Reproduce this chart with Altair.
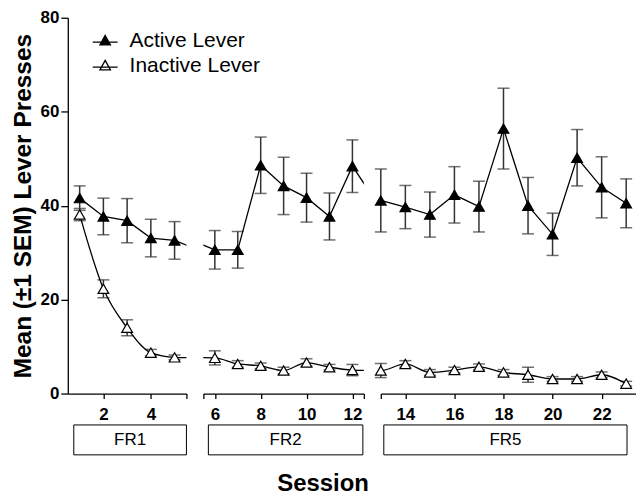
import altair as alt
import pandas as pd

FONT = "Liberation Sans"

sessions = list(range(1, 24))
active_mean = [41.6, 37.7, 36.8, 33.1, 32.6, 30.6, 30.6, 48.6, 44.2, 41.7, 37.7, 48.4,
               41.1, 39.7, 38.1, 42.3, 39.8, 56.4, 40.0, 33.9, 50.2, 43.9, 40.5]
active_sem = [2.6, 3.9, 4.7, 4.0, 4.0, 4.1, 3.9, 6.0, 6.1, 5.2, 5.0, 5.6,
              6.7, 4.6, 4.8, 6.0, 5.4, 8.6, 6.0, 4.5, 6.0, 6.5, 5.2]
inactive_mean = [38.1, 22.3, 14.0, 8.7, 7.7, 7.6, 6.3, 5.9, 4.9, 6.6, 5.6, 5.0,
                 4.9, 6.3, 4.5, 5.0, 5.7, 4.5, 4.0, 3.1, 3.1, 4.0, 2.1]
inactive_sem = [1.3, 1.9, 1.7, 0.7, 0.5, 1.5, 0.7, 0.6, 0.7, 0.8, 0.6, 1.2,
                1.5, 0.7, 0.6, 0.6, 0.6, 0.6, 1.6, 0.5, 0.5, 0.6, 0.5]

levers = ["Active Lever", "Inactive Lever"]
phase_names = ["FR1", "FR2", "FR5"]
phase_first = [1, 6, 13]
phase_last = [5, 12, 23]
x_domains = [[0.5, 5.5], [5.5, 12.5], [13, 23.4]]
tick_values = [[2, 4, 5.5], [5.5, 6, 8, 10, 12, 12.5], [13, 14, 16, 18, 20, 22]]
panel_widths = [119, 161, 256]
box_spans = [[6, 119], [5, 160], [3, 247]]

rows = []
for lever, means, sems in [(levers[0], active_mean, active_sem),
                           (levers[1], inactive_mean, inactive_sem)]:
    for s, m, e in zip(sessions, means, sems):
        ph = next(n for n, a, b in zip(phase_names, phase_first, phase_last) if a <= s <= b)
        rows.append({"session": s, "lever": lever, "mean": m, "lo": m - e, "hi": m + e, "phase": ph})
df = pd.DataFrame(rows)

H = 377
legend_path = "M-1,0.12H1M0,-0.42L0.42,0.34L-0.42,0.34Z"

fill_enc = alt.Fill(
    "lever:N",
    scale=alt.Scale(domain=levers, range=["black", "white"]),
    legend=alt.Legend(
        title=None, orient="none", legendX=24, legendY=9.5,
        symbolType=legend_path, symbolSize=625, symbolStrokeColor="black",
        symbolStrokeWidth=1.3, labelFontSize=21, labelFont=FONT, labelColor="black",
        labelOffset=11, rowPadding=1, symbolOpacity=1,
    ),
)


def panel(i):
    name = phase_names[i]
    xs = alt.Scale(domain=x_domains[i], nice=False, zero=False)
    ys = alt.Scale(domain=[0, 80], nice=False)
    xaxis = alt.Axis(values=tick_values[i], labelExpr="datum.value % 2 == 0 ? datum.label : ''",
                     title=None, grid=False, tickSize=5, labelPadding=8,
                     labelFontSize=17, labelFontWeight="bold", labelFont=FONT, labelColor="black",
                     domainColor="black", tickColor="black", domainWidth=1.3, tickWidth=1.3)
    if i == 0:
        yaxis = alt.Axis(values=[0, 20, 40, 60, 80], title="Mean (±1 SEM) Lever Presses",
                         grid=False, tickSize=7, labelPadding=2, labelFontSize=17,
                         labelFontWeight="bold", labelFont=FONT, labelColor="black",
                         titleFontSize=24.5, titleFontWeight="bold", titleFont=FONT,
                         titleColor="black", titlePadding=5,
                         domainColor="black", tickColor="black", domainWidth=1.3, tickWidth=1.3)
    else:
        yaxis = None
    x = alt.X("session:Q", scale=xs, axis=xaxis)
    base = alt.Chart(df)
    sub = base.transform_filter(alt.datum.phase == name)
    err = sub.mark_errorbar(ticks=True, size=12, thickness=1.5, color="#333333").encode(
        x=x, y=alt.Y("lo:Q", scale=ys, axis=yaxis), y2="hi:Q")
    line_a = base.transform_filter(alt.datum.lever == levers[0]).mark_line(
        color="black", strokeWidth=1.3, clip=True).encode(
        x=x, y=alt.Y("mean:Q", scale=ys, axis=yaxis))
    line_i = base.transform_filter(alt.datum.lever == levers[1]).mark_line(
        color="black", strokeWidth=1.3, clip=True, interpolate="monotone").encode(
        x=x, y=alt.Y("mean:Q", scale=ys, axis=yaxis))
    pts = sub.mark_point(shape="triangle-up", size=115, filled=True, stroke="black",
                         strokeWidth=1.2, opacity=1).encode(
        x=x, y=alt.Y("mean:Q", scale=ys, axis=yaxis), fill=fill_enc)
    pdf = pd.DataFrame({"phase": [name]})
    b0, b1 = box_spans[i]
    box = alt.Chart(pdf).mark_rect(fill="white", stroke="black", strokeWidth=1).encode(
        x=alt.value(b0), x2=alt.value(b1), y=alt.value(408.5), y2=alt.value(438.5))
    txt = alt.Chart(pdf).mark_text(font=FONT, fontSize=17, color="black").encode(
        text="phase:N", x=alt.value((b0 + b1) / 2), y=alt.value(423.5))
    return alt.layer(err, line_a, line_i, pts, box, txt).properties(width=panel_widths[i], height=H)


chart = alt.hconcat(panel(0), panel(1), panel(2), spacing=17, bounds="flush").properties(
    title=alt.TitleParams("Session", orient="bottom", anchor="middle", fontSize=24,
                          font=FONT, fontWeight="bold", color="black", offset=17),
    padding={"left": 2, "top": 0, "right": 0, "bottom": 0},
).configure_view(stroke=None)

chart.save("out.html", embed_options={"renderer": "svg", "actions": False})
